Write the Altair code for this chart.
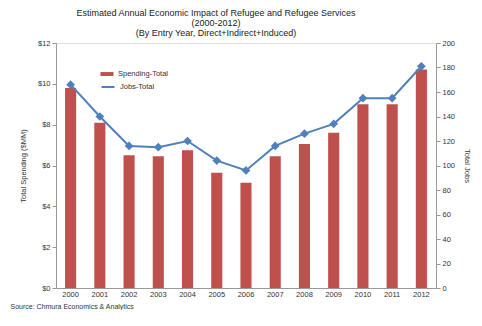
import altair as alt
import pandas as pd

years = ["2000", "2001", "2002", "2003", "2004", "2005", "2006",
         "2007", "2008", "2009", "2010", "2011", "2012"]
spending = [9.8, 8.1, 6.5, 6.45, 6.75, 5.65, 5.15, 6.45, 7.05, 7.6, 9.0, 9.0, 10.7]
jobs = [166, 140, 116, 115, 120, 104, 96, 116, 126, 134, 155, 155, 181]

df = pd.DataFrame({"year": years, "spending": spending, "jobs": jobs,
                   "s_label": "Spending-Total", "j_label": "Jobs-Total"})

font = "Liberation Sans"
RED = "#c0504d"
BLUE = "#4f81bd"

x = alt.X("year:N", axis=alt.Axis(labelAngle=0, labelFontSize=7.5, labelColor="#333",
                                   domainColor="#999", tickColor="#999", ticks=False,
                                   title="Source: Chmura Economics & Analytics",
                                   titleAnchor="start", titleAlign="left", titleX=-46, titleY=14,
                                   titleFontSize=7, titleFontWeight="normal", titleColor="#333"),
          scale=alt.Scale(paddingInner=0.62, paddingOuter=0.31))

bars = alt.Chart(df).mark_bar(color=RED).encode(
    x=x,
    y=alt.Y("spending:Q", scale=alt.Scale(domain=[0, 12]),
            axis=alt.Axis(values=[0, 2, 4, 6, 8, 10, 12], labelExpr='"$" + datum.value',
                          grid=False, labelFontSize=7.5, labelColor="#333",
                          domainColor="#999", tickColor="#999", tickSize=4,
                          title="Total Spending ($MM)", titleFontSize=7.5,
                          titleFontWeight="normal", titleColor="#333", titlePadding=10)),
    fill=alt.Fill("s_label:N", scale=alt.Scale(domain=["Spending-Total"], range=[RED]),
                  legend=alt.Legend(title=None, orient="none", legendX=44, legendY=24,
                                    symbolType="M-1,-0.3H1V0.3H-1Z", symbolSize=170,
                                    symbolStrokeWidth=0, labelFontSize=7.5, labelColor="#333")),
)

line = alt.Chart(df).mark_line(strokeWidth=2, point=alt.OverlayMarkDef(shape="diamond", size=35, filled=True, color=BLUE)).encode(
    x=x,
    y=alt.Y("jobs:Q", scale=alt.Scale(domain=[0, 200]),
            axis=alt.Axis(orient="right", values=list(range(0, 201, 20)), grid=False,
                          labelFontSize=7.5, labelColor="#333", domainColor="#999",
                          tickColor="#999", tickSize=4,
                          title="Total Jobs", titleFontSize=7.5, titleFontWeight="normal",
                          titleColor="#333", titlePadding=8)),
    stroke=alt.Stroke("j_label:N", scale=alt.Scale(domain=["Jobs-Total"], range=[BLUE]),
                      legend=alt.Legend(title=None, orient="none", legendX=44, legendY=36,
                                        symbolType="stroke", symbolStrokeWidth=2, symbolSize=170,
                                        labelFontSize=7.5, labelColor="#333")),
)

chart = alt.layer(bars, line).resolve_scale(y="independent", fill="independent", stroke="independent").properties(
    width=380, height=245,
    title=alt.TitleParams(
        text=["Estimated Annual Economic Impact of Refugee and Refugee Services",
              "(2000-2012)", "(By Entry Year, Direct+Indirect+Induced)"],
        fontSize=9, fontWeight="normal", color="#222", anchor="middle", dx=-30,
        offset=1, lineHeight=10),
    autosize=alt.AutoSizeParams(type="none"),
    padding={"left": 48, "top": 35, "right": 38, "bottom": 22},
).configure_view(stroke=None).configure(font=font)

chart.save("out.html", embed_options={"renderer": "svg", "actions": False})
